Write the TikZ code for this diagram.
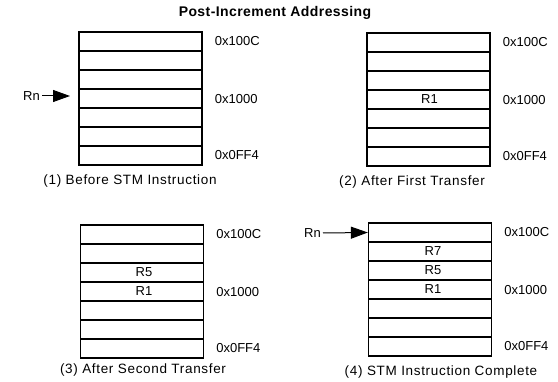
\documentclass[tikz,border=0pt]{standalone}
\usepackage{fontspec}
\setmainfont{Liberation Sans}
\usetikzlibrary{arrows.meta}
\begin{document}
\begin{tikzpicture}[x=1pt,y=-1pt,
 cell/.style={draw,line width=1.3pt,minimum width=123pt,minimum height=19pt,inner sep=0pt},
 reg/.style={inner sep=0pt,font=\fontsize{13}{14}\selectfont},
 addr/.style={anchor=west,inner sep=0pt,font=\fontsize{13}{14}\selectfont},
 captext/.style={inner sep=0pt,font=\fontsize{13.5}{15}\selectfont\addfontfeature{LetterSpace=5}},
 lbl/.style={inner sep=2pt,font=\fontsize{13}{14}\selectfont},
 ptr/.style={-{Triangle[length=17pt,width=12pt]},line width=1pt}]
\useasboundingbox (0,0) rectangle (558,382);
\node[font=\bfseries\fontsize{14}{15}\selectfont\addfontfeature{LetterSpace=3},inner sep=0pt] (title) at (275,13) {Post-Increment Addressing};
\foreach \p/\cx/\ty in {1/140.5/32, 2/428.5/33, 3/142/225, 4/430/223} {
  \foreach \i in {1,...,7} {
    \node[cell] (p\p r\i) at (\cx, \ty+19*\i-9.5) {};
  }
}
% contents
\node[reg] (p2R1) at ([xshift=1pt]p2r4.center) {R1};
\node[reg] (p3R5) at ([xshift=2pt]p3r3.center) {R5};
\node[reg] (p3R1) at ([xshift=2pt]p3r4.center) {R1};
\node[reg] (p4R7) at ([xshift=3pt]p4r2.center) {R7};
\node[reg] (p4R5) at ([xshift=3pt]p4r3.center) {R5};
\node[reg] (p4R1) at ([xshift=3pt]p4r4.center) {R1};
% addresses
\foreach \p in {1,2,3,4} {
  \node[addr] (a\p c) at ([xshift=12pt]p\p r1.east) {0x100C};
  \node[addr] (a\p m) at ([xshift=12pt,yshift=-1pt]p\p r4.east) {0x1000};
  \node[addr] (a\p f) at ([xshift=12pt]p\p r7.east) {0x0FF4};
}
% captions
\node[captext] (c1) at (130,181) {(1) Before STM Instruction};
\node[captext] (c2) at (412,182) {(2) After First Transfer};
\node[captext] (c3) at (143,370) {(3) After Second Transfer};
\node[captext] (c4) at (441,372) {(4) STM Instruction Complete};
% pointers
\node[lbl,anchor=east] (rn1) at (42,96) {Rn};
\coordinate (t1) at (70,96);
\draw[ptr] (rn1.east) -- (t1);
\node[lbl,anchor=east] (rn4) at (323,233) {Rn};
\draw[ptr] (rn4.east) -- (p4r1.west);
\end{tikzpicture}
\end{document}
